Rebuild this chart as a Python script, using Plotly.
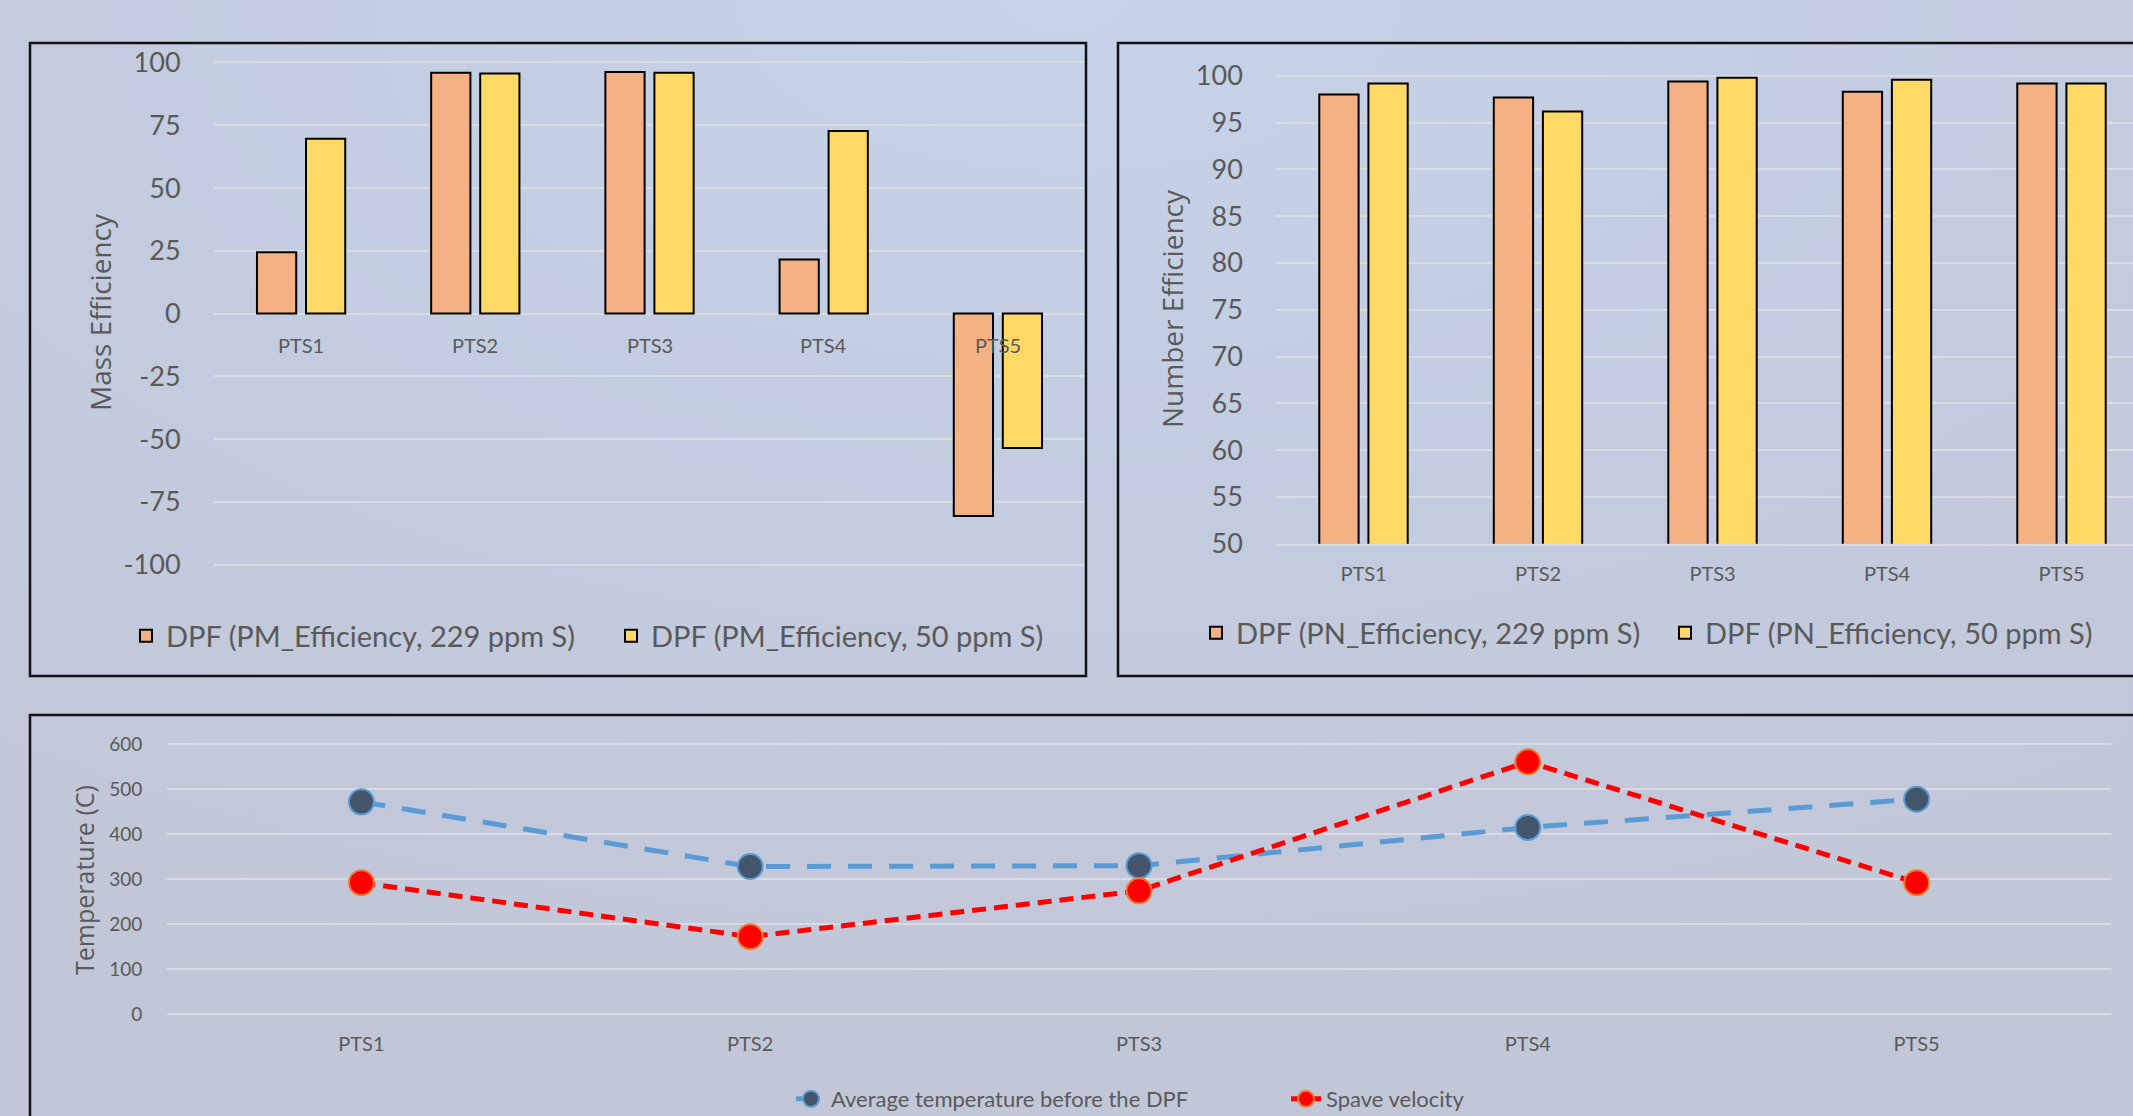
import plotly.graph_objects as go
import base64

# ---------------- data ----------------
categories = ["PTS1", "PTS2", "PTS3", "PTS4", "PTS5"]
pm_eff_229 = [24.4, 95.9, 96.2, 21.5, -80.6]
pm_eff_50 = [69.6, 95.6, 95.9, 72.7, -53.5]
pn_eff_229 = [98.0, 97.7, 99.4, 98.3, 99.2]
pn_eff_50 = [99.2, 96.2, 99.8, 99.6, 99.2]
avg_temp = [472, 328, 330, 415, 478]
space_velocity = [292, 172, 274, 561, 292]

pm_ticks = [-100, -75, -50, -25, 0, 25, 50, 75, 100]
pm_ticktext = ["-100", "-75", "-50", "-25", "0", "25", "50", "75", "100"]
pn_ticks = [50, 55, 60, 65, 70, 75, 80, 85, 90, 95, 100]
temp_ticks = [0, 100, 200, 300, 400, 500, 600]

name_pm229 = "DPF (PM_Efficiency, 229 ppm S)"
name_pm50 = "DPF (PM_Efficiency, 50 ppm S)"
name_pn229 = "DPF (PN_Efficiency, 229 ppm S)"
name_pn50 = "DPF (PN_Efficiency, 50 ppm S)"
name_temp = "Average temperature before the DPF"
name_sv = "Spave velocity"

# ---------------- styling ----------------
W, H = 2133, 1116
def px(x):
    return x / W
def py(y):
    return 1 - y / H

ORANGE = "#F4B183"
YELLOW = "#FFD966"
TXT = "#595959"
GRID = "#DADCE3"
TICKFONT = "Lato"
TITLEFONT = "Open Sans"

fig = go.Figure()

# Panel 1: mass efficiency
fig.add_trace(go.Bar(x=categories, y=pm_eff_229, name=name_pm229, xaxis="x", yaxis="y",
                     marker=dict(color=ORANGE, line=dict(color="black", width=2)), legend="legend"))
fig.add_trace(go.Bar(x=categories, y=pm_eff_50, name=name_pm50, xaxis="x", yaxis="y",
                     marker=dict(color=YELLOW, line=dict(color="black", width=2)), legend="legend"))
# Panel 2: number efficiency
fig.add_trace(go.Bar(x=categories, y=pn_eff_229, name=name_pn229, xaxis="x2", yaxis="y2",
                     marker=dict(color=ORANGE, line=dict(color="black", width=2)), legend="legend2"))
fig.add_trace(go.Bar(x=categories, y=pn_eff_50, name=name_pn50, xaxis="x2", yaxis="y2",
                     marker=dict(color=YELLOW, line=dict(color="black", width=2)), legend="legend2"))
# Panel 3: temperature / space velocity
fig.add_trace(go.Scatter(x=categories, y=avg_temp, name=name_temp, xaxis="x3", yaxis="y3",
                         mode="lines+markers",
                         line=dict(color="#5B9BD5", width=5, dash="24px,17px"),
                         marker=dict(size=25, color="#44546A", line=dict(color="#5B9BD5", width=2)),
                         legend="legend3"))
fig.add_trace(go.Scatter(x=categories, y=space_velocity, name=name_sv, xaxis="x3", yaxis="y3",
                         mode="lines+markers",
                         line=dict(color="#FF0000", width=5, dash="14px,8px"),
                         marker=dict(size=25, color="#FF0000", line=dict(color="#ED7D31", width=2)),
                         legend="legend3"))

# axis geometry (pixel based)
p1_top = 62.5 - 2.511
p1_bot = 564.7 + 2.511
p2_top = 75.9 - 0.3 * 9.357
p2_bot = 543.75
p3_top = 744.3 - 3 * 0.4495
p3_bot = 1014 + 3 * 0.4495

x2_left = 1276.25
x2_upper = -0.5 + (W - x2_left) / 174.5

common_y = dict(showgrid=True, gridcolor=GRID, gridwidth=2, zeroline=False, showline=False,
                ticks="outside", tickcolor="rgba(0,0,0,0)", automargin=False)

fig.update_layout(
    width=W, height=H,
    margin=dict(l=0, r=0, t=0, b=0, pad=0, autoexpand=False),
    paper_bgcolor="#C4CBDD",
    plot_bgcolor="rgba(0,0,0,0)",
    bargap=0.437, bargroupgap=0.2,
    xaxis=dict(domain=[px(214), px(1085)], anchor="y", type="category", range=[-0.5, 4.5],
               showticklabels=False, showgrid=False, zeroline=False, showline=False, ticks="",
               automargin=False),
    yaxis=dict(domain=[py(p1_bot), py(p1_top)], anchor="x", range=[-101, 101],
               tickvals=pm_ticks, ticktext=pm_ticktext, ticklen=27,
               tickfont=dict(family=TICKFONT, size=27, color=TXT), **common_y),
    xaxis2=dict(domain=[px(x2_left), 1], anchor="y2", type="category", range=[-0.5, x2_upper],
                showgrid=False, zeroline=False, showline=True, linecolor=GRID, linewidth=2,
                ticks="outside", ticklen=11, tickcolor="rgba(0,0,0,0)", automargin=False,
                tickfont=dict(family=TICKFONT, size=20, color=TXT)),
    yaxis2=dict(domain=[py(p2_bot), py(p2_top)], anchor="x2", range=[50, 100.3],
                tickvals=pn_ticks, ticklen=27,
                tickfont=dict(family=TICKFONT, size=27, color=TXT), **common_y),
    xaxis3=dict(domain=[px(167), px(2111)], anchor="y3", type="category", range=[-0.5, 4.5],
                showgrid=False, zeroline=False, showline=False, automargin=False,
                ticks="outside", ticklen=11, tickcolor="rgba(0,0,0,0)",
                tickfont=dict(family=TICKFONT, size=20, color=TXT)),
    yaxis3=dict(domain=[py(p3_bot), py(p3_top)], anchor="x3", range=[-3, 603],
                tickvals=temp_ticks, ticklen=20,
                tickfont=dict(family=TICKFONT, size=19, color=TXT), **common_y),
    legend=dict(orientation="h", x=px(126), xanchor="left", y=py(636), yanchor="middle",
                bgcolor="rgba(0,0,0,0)", font=dict(family=TICKFONT, size=29, color=TXT),
                entrywidth=440, traceorder="normal"),
    legend2=dict(orientation="h", x=px(1196), xanchor="left", y=py(633), yanchor="middle",
                 bgcolor="rgba(0,0,0,0)", font=dict(family=TICKFONT, size=29, color=TXT),
                 entrywidth=424, traceorder="normal"),
    legend3=dict(orientation="h", x=px(791), xanchor="left", y=py(1099), yanchor="middle",
                 bgcolor="rgba(0,0,0,0)", font=dict(family=TICKFONT, size=22, color=TXT),
                 entrywidth=450, traceorder="normal"),
    showlegend=True,
)

# category labels for panel 1 sit at the zero line
for c in categories:
    fig.add_annotation(x=c, y=0, xref="x", yref="y", text=c, showarrow=False,
                       yanchor="middle", yshift=-31,
                       font=dict(family=TICKFONT, size=20, color=TXT))

# axis titles
fig.add_annotation(x=px(100), y=py(312), xref="paper", yref="paper", text="Mass Efficiency",
                   textangle=-90, showarrow=False, xanchor="center", yanchor="middle",
                   font=dict(family=TITLEFONT, size=28, color=TXT))
fig.add_annotation(x=px(1172), y=py(309), xref="paper", yref="paper", text="Number Efficiency",
                   textangle=-90, showarrow=False, xanchor="center", yanchor="middle",
                   font=dict(family=TITLEFONT, size=28, color=TXT))
fig.add_annotation(x=px(84), y=py(880), xref="paper", yref="paper", text="Temperature (C)",
                   textangle=-90, showarrow=False, xanchor="center", yanchor="middle",
                   font=dict(family=TITLEFONT, size=25, color=TXT))

# panel borders
for (x0, y0, x1, y1) in [(30, 43, 1086, 676), (1118, 43, 2150, 676), (30, 715, 2150, 1140)]:
    fig.add_shape(type="rect", xref="paper", yref="paper",
                  x0=px(x0), x1=px(x1), y0=py(y1), y1=py(y0),
                  line=dict(color="#111111", width=2.5), fillcolor="rgba(0,0,0,0)", layer="above")

# subtle background gradient
svg = (
    '<svg xmlns="http://www.w3.org/2000/svg" width="2133" height="1116">'
    '<defs><radialGradient id="g" cx="0.5" cy="0" r="0.9" fx="0.5" fy="0">'
    '<stop offset="0" stop-color="#C6D3E9"/><stop offset="0.6" stop-color="#C3CBDE"/>'
    '<stop offset="1" stop-color="#C2C7D8"/></radialGradient></defs>'
    '<rect width="2133" height="1116" fill="url(#g)"/></svg>'
)
src = "data:image/svg+xml;base64," + base64.b64encode(svg.encode()).decode()
fig.add_layout_image(dict(source=src, xref="paper", yref="paper", x=0, y=1, sizex=1, sizey=1,
                          xanchor="left", yanchor="top", sizing="stretch", layer="below"))

fig.write_html("out.html")
